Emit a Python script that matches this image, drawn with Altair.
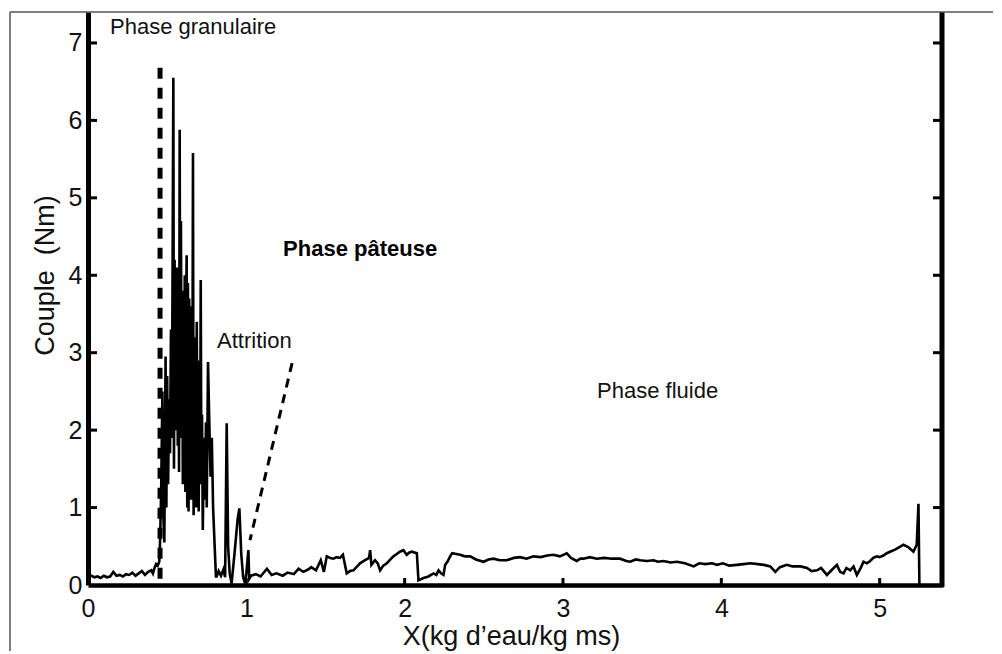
import altair as alt
import pandas as pd

# ---- data ----
curve_x = [0.00, 0.02, 0.04, 0.06, 0.08, 0.10, 0.12, 0.14, 0.16, 0.18, 0.20, 0.22, 0.24, 0.26, 0.28,
           0.30, 0.32, 0.34, 0.36, 0.38, 0.40, 0.41, 0.42, 0.43, 0.44, 0.45,
           0.455, 0.462, 0.47, 0.476, 0.482, 0.49, 0.495, 0.50, 0.506, 0.512, 0.518, 0.524, 0.529,
           0.534, 0.539, 0.543, 0.547, 0.551, 0.555, 0.559, 0.563, 0.567, 0.571, 0.575, 0.579, 0.583,
           0.587, 0.591, 0.595, 0.599, 0.603, 0.607, 0.611, 0.615, 0.619, 0.623, 0.627, 0.631, 0.635,
           0.639, 0.643, 0.647, 0.651, 0.655, 0.659, 0.663, 0.667, 0.671, 0.675, 0.679, 0.683, 0.687,
           0.691, 0.695, 0.699, 0.703, 0.708, 0.712, 0.716, 0.72, 0.725, 0.732, 0.738, 0.745, 0.75,
           0.758, 0.766, 0.774, 0.782, 0.79, 0.80, 0.808, 0.813, 0.825, 0.84, 0.855, 0.866, 0.876,
           0.885, 0.895, 0.907, 0.925, 0.945, 0.956, 0.968, 0.98, 0.992, 1.00, 1.013, 1.018,
           1.03, 1.06, 1.09, 1.13, 1.16, 1.19, 1.23, 1.26, 1.30, 1.33, 1.36, 1.39, 1.41, 1.44, 1.47,
           1.49, 1.508, 1.53, 1.55, 1.57, 1.592, 1.61, 1.634, 1.655, 1.676, 1.70, 1.718, 1.75, 1.775,
           1.782, 1.79, 1.813, 1.83, 1.845, 1.865, 1.887, 1.91, 1.929, 1.95, 1.97, 1.992, 2.013, 2.03,
           2.045, 2.077, 2.087, 2.119, 2.15, 2.182, 2.20, 2.214, 2.23, 2.245, 2.256, 2.27, 2.287, 2.30,
           2.35, 2.38, 2.414, 2.45, 2.498, 2.53, 2.561, 2.60, 2.645, 2.69, 2.729, 2.77, 2.813, 2.86,
           2.90, 2.939, 2.98, 3.024, 3.05, 3.087, 3.11, 3.129, 3.17, 3.213, 3.26, 3.31, 3.36, 3.40,
           3.424, 3.46, 3.487, 3.53, 3.571, 3.60, 3.635, 3.68, 3.72, 3.77, 3.825, 3.86, 3.90, 3.94,
           3.973, 4.01, 4.05, 4.098, 4.14, 4.183, 4.23, 4.27, 4.309, 4.341, 4.37, 4.414, 4.45, 4.50,
           4.541, 4.57, 4.604, 4.63, 4.667, 4.70, 4.73, 4.75, 4.772, 4.79, 4.814, 4.835, 4.856, 4.878,
           4.898, 4.92, 4.94, 4.96, 4.982, 5.00, 5.024, 5.045, 5.066, 5.10, 5.125, 5.15, 5.18, 5.213,
           5.234, 5.245, 5.251]
curve_y = [0.15, 0.12, 0.10, 0.11, 0.09, 0.12, 0.10, 0.11, 0.17, 0.12, 0.13, 0.11, 0.14, 0.13, 0.16,
           0.12, 0.15, 0.18, 0.13, 0.17, 0.19, 0.15, 0.22, 0.27, 0.25, 0.30,
           0.55, 1.2, 2.5, 0.9, 0.55, 2.95, 1.0, 2.7, 1.3, 2.4, 1.7, 3.3, 1.9,
           4.0, 6.55, 1.5, 4.2, 2.0, 3.9, 2.4, 4.1, 1.8, 3.6, 1.46, 5.88, 1.9,
           4.7, 2.1, 3.8, 1.3, 3.5, 1.6, 4.0, 1.2, 3.4, 4.26, 1.0, 3.9, 0.95,
           3.7, 1.4, 3.3, 1.1, 3.6, 2.0, 5.58, 0.9, 3.2, 1.2, 3.0, 1.0, 3.4,
           1.3, 2.9, 0.95, 2.6, 1.4, 3.94, 1.3, 2.2, 0.71, 1.9, 1.1, 2.1, 1.0,
           2.88, 2.1, 1.4, 1.9, 1.0, 0.5, 0.11, 0.11, 0.18, 0.12, 0.20, 0.10, 2.09,
           0.5, 0.15, 0.02, 0.4, 0.85, 0.99, 0.4, 0.1, 0.02, 0.15, 0.45, 0.08,
           0.12, 0.14, 0.11, 0.21, 0.13, 0.15, 0.12, 0.16, 0.14, 0.21, 0.17, 0.20, 0.23, 0.19, 0.32,
           0.17, 0.37, 0.35, 0.34, 0.36, 0.35, 0.39, 0.15, 0.18, 0.19, 0.24, 0.28, 0.32, 0.35,
           0.45, 0.26, 0.32, 0.28, 0.19, 0.25, 0.28, 0.33, 0.37, 0.40, 0.43, 0.45, 0.39, 0.42,
           0.43, 0.41, 0.06, 0.09, 0.11, 0.15, 0.13, 0.19, 0.15, 0.13, 0.26, 0.30, 0.37, 0.41,
           0.39, 0.37, 0.37, 0.33, 0.30, 0.33, 0.34, 0.32, 0.32, 0.35, 0.36, 0.34, 0.37, 0.36,
           0.38, 0.39, 0.37, 0.41, 0.35, 0.31, 0.34, 0.34, 0.36, 0.34, 0.35, 0.34, 0.34, 0.31,
           0.30, 0.33, 0.32, 0.31, 0.32, 0.30, 0.31, 0.29, 0.30, 0.28, 0.24, 0.28, 0.27, 0.28,
           0.26, 0.28, 0.25, 0.26, 0.27, 0.28, 0.27, 0.26, 0.24, 0.17, 0.23, 0.26, 0.24, 0.24,
           0.22, 0.18, 0.19, 0.22, 0.13, 0.20, 0.26, 0.17, 0.15, 0.22, 0.19, 0.24, 0.13, 0.21,
           0.30, 0.28, 0.31, 0.35, 0.37, 0.36, 0.38, 0.41, 0.43, 0.46, 0.49, 0.52, 0.49, 0.43,
           0.52, 1.05, 0.0]

x_ticks = [0, 1, 2, 3, 4, 5]
y_ticks = [0, 1, 2, 3, 4, 5, 6, 7]

vline_x = [0.455]
vline_top = [6.68]
vline_bottom = [0.0]

diag_x = [1.289, 1.023]
diag_y = [2.865, 0.58]

labels_text = ["Phase granulaire", "Attrition", "Phase fluide"]
labels_x = [0.139, 0.815, 3.215]
labels_y = [7.12, 3.06, 2.413]

bold_text = ["Phase pâteuse"]
bold_x = [1.232]
bold_y = [4.245]

W, H = 855, 573
FONT = "Liberation Sans"

curve_df = pd.DataFrame({"x": curve_x, "y": curve_y})
xs = alt.Scale(domain=[0, 5.4], nice=False, zero=False)
ys = alt.Scale(domain=[0, 7.4], nice=False, zero=False)

X_AX = alt.Axis(
    values=x_ticks, tickSize=0, domainWidth=4.5, domainColor="black", grid=False,
    labelFontSize=25, labelPadding=11, labelColor="#111", labelFont=FONT, labelFlush=False,
    title="X(kg d’eau/kg ms)", titleFontSize=27, titleFontWeight="normal", titleFont=FONT,
    titleColor="#111", titleX=423, titleY=59, titleBaseline="alphabetic", titleAlign="center")
Y_AX = alt.Axis(
    values=y_ticks, tickSize=0, domainWidth=5, domainColor="black", grid=False,
    labelFontSize=25, labelPadding=6, labelColor="#111", labelFont=FONT, labelFlush=False,
    title="Couple\u00a0 (Nm)", titleFontSize=27, titleFontWeight="normal", titleFont=FONT,
    titleColor="#111", titleX=-35, titleY=263, titleBaseline="alphabetic", titleAlign="center",
    titleAngle=270)


def X(f):
    return alt.X(f, scale=xs, axis=X_AX, title="X(kg d’eau/kg ms)")


def Y(f):
    return alt.Y(f, scale=ys, axis=Y_AX, title="Couple\u00a0 (Nm)")


curve = alt.Chart(curve_df).mark_line(color="black", strokeWidth=2.6, strokeJoin="miter").encode(
    x=X("x:Q"), y=Y("y:Q"), order=alt.Order("x:Q"))

vline = alt.Chart(pd.DataFrame({"x": vline_x, "y": vline_top, "y2": vline_bottom})).mark_rule(
    color="black", strokeWidth=5, strokeDash=[11, 9]).encode(
    x=X("x:Q"), y=Y("y:Q"), y2="y2:Q")

diag_df = pd.DataFrame({"x": diag_x, "y": diag_y, "o": [0, 1]})
diag = alt.Chart(diag_df).mark_line(color="black", strokeWidth=3, strokeDash=[9, 7]).encode(
    x=X("x:Q"), y=Y("y:Q"), order="o:Q")

txt = alt.Chart(pd.DataFrame({"t": labels_text, "x": labels_x, "y": labels_y})).mark_text(
    align="left", baseline="alphabetic", fontSize=22, font=FONT, color="#111").encode(
    x=X("x:Q"), y=Y("y:Q"), text="t:N")

btxt = alt.Chart(pd.DataFrame({"t": bold_text, "x": bold_x, "y": bold_y})).mark_text(
    align="left", baseline="alphabetic", fontSize=22, font=FONT, fontWeight="bold", color="black").encode(
    x=X("x:Q"), y=Y("y:Q"), text="t:N")

ytick_df = pd.DataFrame({"y": y_ticks[1:]})
xtick_df = pd.DataFrame({"x": x_ticks[1:]})

left_ticks = alt.Chart(ytick_df).mark_rule(color="black", strokeWidth=3).encode(
    y=Y("y:Q"), x=alt.value(0), x2=alt.value(9))
right_ticks = alt.Chart(ytick_df).mark_rule(color="black", strokeWidth=3).encode(
    y=Y("y:Q"), x=alt.value(W - 10), x2=alt.value(W))
bottom_ticks = alt.Chart(xtick_df).mark_rule(color="black", strokeWidth=3).encode(
    x=X("x:Q"), y=alt.value(H), y2=alt.value(H - 7))

one = alt.Data(values=[{"a": 1}])
right_axis = alt.Chart(one).mark_rule(color="black", strokeWidth=5).encode(
    x=alt.value(W - 1), y=alt.value(0), y2=alt.value(H + 2))
frame_top = alt.Chart(one).mark_rule(color="#555", strokeWidth=1.5).encode(
    x=alt.value(-78), x2=alt.value(920), y=alt.value(0))
frame_left = alt.Chart(one).mark_rule(color="#555", strokeWidth=1.5).encode(
    x=alt.value(-78), y=alt.value(0), y2=alt.value(650))

chart = alt.layer(
    curve, vline, diag, txt, btxt, left_ticks, right_ticks, bottom_ticks,
    right_axis, frame_top, frame_left
).properties(
    width=W, height=H,
    autosize=alt.AutoSizeParams(type="none"),
    padding={"left": 80, "top": 4, "right": 50, "bottom": 66},
).configure_view(stroke=None)

chart.save("out.html", embed_options={"renderer": "svg", "actions": False})
